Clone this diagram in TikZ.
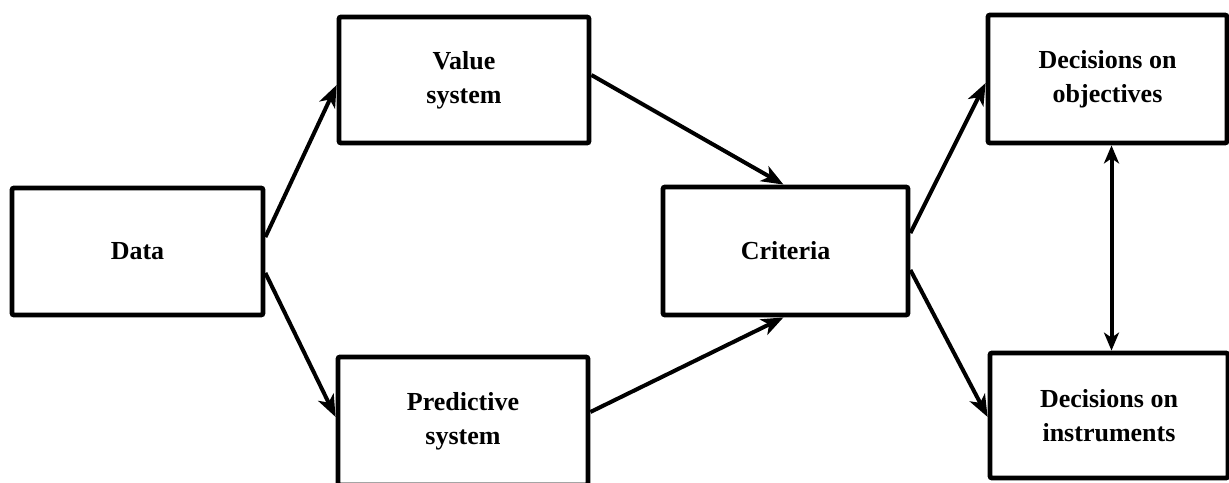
\documentclass[tikz,border=0pt]{standalone}
\usepackage{fontspec}
\setmainfont{Liberation Serif}
\usetikzlibrary{arrows.meta}

\begin{document}
\begin{tikzpicture}[x=1pt,y=-1pt,
  box/.style={draw, line width=4.8pt, rectangle, rounded corners=2pt,
    inner sep=0pt, align=center,
    font=\fontsize{26}{34}\selectfont\bfseries},
  flow/.style={line width=4pt, -{Stealth[length=22pt,width=17pt,inset=6pt]}},
  flow2/.style={line width=4pt,
    {Stealth[length=18pt,width=15pt,inset=5pt]}-{Stealth[length=18pt,width=15pt,inset=5pt]}}]

  \useasboundingbox (0,0) rectangle (1229,482);
  \begin{scope}
  \clip (0,0) rectangle (1229,482);

  % boxes
  \node[box, minimum width=251pt, minimum height=127pt] (data)  at (137.5,251.5) {Data};
  \node[box, minimum width=250pt, minimum height=126pt] (value) at (464,80) {Value\\system};
  \node[box, minimum width=250pt, minimum height=128pt] (pred)  at (463,421) {Predictive\\system};
  \node[box, minimum width=245pt, minimum height=128pt] (crit)  at (785.5,251) {Criteria};
  \node[box, minimum width=239pt, minimum height=128pt] (obj)   at (1107.5,79) {Decisions on\\objectives};
  \node[box, minimum width=238pt, minimum height=125pt] (inst)  at (1109,415.5) {Decisions on\\instruments};

  % connectors
  \draw[flow] ([yshift=14.5pt]data.east) -- ([yshift=-5pt]value.west);
  \draw[flow] ([yshift=-21.5pt]data.east) -- ([yshift=4pt]pred.west);
  \draw[flow] ([yshift=5pt]value.east) -- ([xshift=-2pt]crit.north);
  \draw[flow] ([yshift=9pt]pred.east) -- ([xshift=-2pt]crit.south);
  \draw[flow] ([yshift=18pt]crit.east) -- ([yshift=-4pt]obj.west);
  \draw[flow] ([yshift=-19pt]crit.east) -- ([yshift=-1.5pt]inst.west);
  \coordinate (objb) at ([xshift=4pt]obj.south);
  \draw[flow2] (objb) -- (objb |- inst.north);
  \end{scope}
\end{tikzpicture}
\end{document}
